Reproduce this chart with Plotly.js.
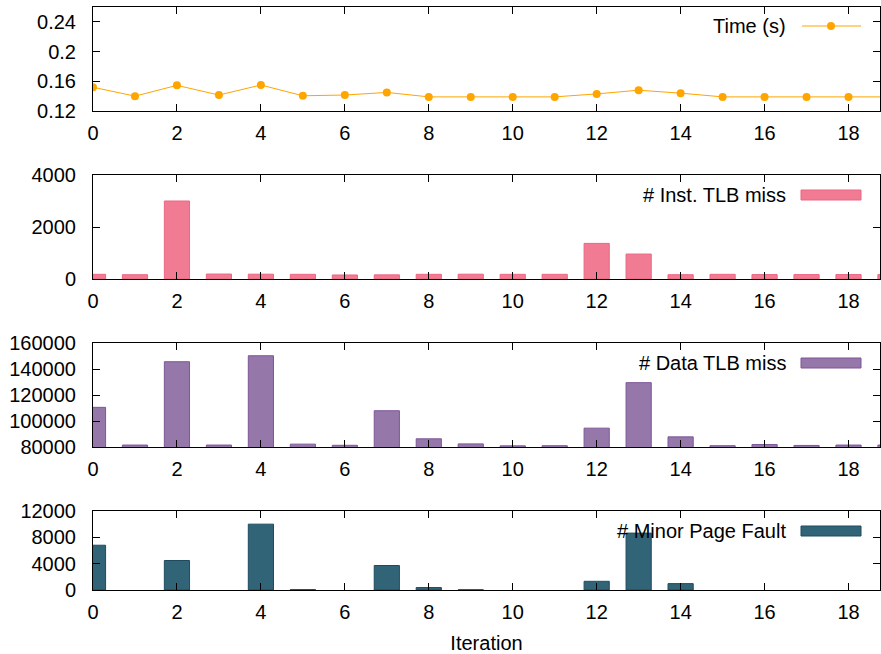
<!DOCTYPE html>
<html>
<head>
<meta charset="utf-8">
<script src="https://cdn.plot.ly/plotly-3.0.1.min.js"></script>
<style>
  html, body { margin: 0; padding: 0; background: #fff; }
  #chart { width: 881px; height: 654px; }
</style>
</head>
<body>
<div id="chart"></div>
<script>
// Per-iteration measurements
const iterations = [0, 1, 2, 3, 4, 5, 6, 7, 8, 9, 10, 11, 12, 13, 14, 15, 16, 17, 18, 19];
const timeSec = [0.152, 0.140, 0.1545, 0.1415, 0.155, 0.1405, 0.1415, 0.145, 0.139, 0.139,
                 0.139, 0.139, 0.143, 0.148, 0.144, 0.139, 0.139, 0.139, 0.139, 0.139];
const instTlbMiss = [180, 165, 3000, 190, 185, 180, 155, 160, 180, 185,
                     180, 180, 1370, 960, 165, 180, 170, 170, 170, 170];
const dataTlbMiss = [110500, 81500, 145600, 81500, 150200, 82200, 81300, 107900, 86300, 82400,
                     80900, 81000, 94500, 129500, 87800, 81000, 81900, 81200, 81500, 81500];
const minorPageFault = [6800, 0, 4480, 0, 10000, 60, 0, 3720, 370, 40,
                        0, 0, 1320, 8640, 970, 0, 0, 0, 0, 0];

const seriesNames = ['Time (s)', '# Inst. TLB miss', '# Data TLB miss', '# Minor Page Fault'];
const xTicks = [0, 2, 4, 6, 8, 10, 12, 14, 16, 18];
const yTicks = [
  [0.12, 0.16, 0.2, 0.24],
  [0, 2000, 4000],
  [80000, 100000, 120000, 140000, 160000],
  [0, 4000, 8000, 12000]
];
const yTickLabels = [
  ['0.12', '0.16', '0.2', '0.24'],
  ['0', '2000', '4000'],
  ['80000', '100000', '120000', '140000', '160000'],
  ['0', '4000', '8000', '12000']
];
const yRanges = [[0.12, 0.26], [0, 4000], [80000, 160000], [0, 12000]];

// Canvas geometry (pixels)
const W = 881, H = 654;
const M = { l: 93, r: 1, t: 7, b: 64 };
const PW = W - M.l - M.r, PH = H - M.t - M.b;
const px = x => (x - M.l) / PW;
const py = y => (H - M.b - y) / PH;

// Panel top/bottom edges in pixels
const panels = [[7, 111], [175, 279], [343, 447], [511, 590]];

const FONT = 'Liberation Sans, Arial, sans-serif';
const ORANGE = '#ffa500';
const fills = ['#f27b94', '#9677aa', '#326478'];
const edges = ['#ea6782', '#7d5797', '#1f4b60'];

const traces = [
  {
    type: 'scatter', mode: 'lines+markers', x: iterations, y: timeSec,
    name: seriesNames[0], xaxis: 'x', yaxis: 'y',
    line: { color: ORANGE, width: 1 },
    marker: { color: ORANGE, size: 8 },
    cliponaxis: true, showlegend: false
  }
];
[instTlbMiss, dataTlbMiss, minorPageFault].forEach((vals, i) => {
  traces.push({
    type: 'bar', x: iterations, y: vals, width: 0.6,
    name: seriesNames[i + 1], xaxis: 'x' + (i + 2), yaxis: 'y' + (i + 2),
    marker: {
      color: fills[i],
      // empty boxes get no outline so nothing sits on the axis line
      line: { color: edges[i], width: vals.map(v => (v > 0 ? 1 : 0)) }
    },
    showlegend: false
  });
});

const layout = {
  width: W, height: H,
  margin: M,
  paper_bgcolor: '#fff', plot_bgcolor: '#fff',
  font: { family: FONT, size: 20, color: '#000' },
  showlegend: false,
  bargap: 0,
  shapes: [],
  annotations: []
};

panels.forEach((p, i) => {
  const n = i === 0 ? '' : String(i + 1);
  layout['xaxis' + n] = {
    domain: [0, 1], anchor: 'y' + n, range: [0, 18.75],
    tickvals: xTicks, ticks: 'inside', ticklen: 7, tickcolor: '#000', tickwidth: 1,
    showline: true, linecolor: '#000', linewidth: 1, mirror: 'ticks',
    showgrid: false, zeroline: false, ticklabelstandoff: 4,
    tickfont: { family: FONT, size: 20, color: '#000' }
  };
  layout['yaxis' + n] = {
    domain: [py(p[1]), py(p[0])], anchor: 'x' + n, range: yRanges[i],
    tickvals: yTicks[i], ticktext: yTickLabels[i],
    ticks: 'inside', ticklen: 7, tickcolor: '#000', tickwidth: 1,
    showline: true, linecolor: '#000', linewidth: 1, mirror: 'ticks',
    showgrid: false, zeroline: false, ticklabelstandoff: 12,
    tickfont: { family: FONT, size: 20, color: '#000' }
  };
});
layout.xaxis4.title = { text: 'Iteration', standoff: 14, font: { family: FONT, size: 20, color: '#000' } };

// Key entries: label on the left, sample on the right
const keyY = [26, 195, 363, 531];
keyY.forEach((y, i) => {
  layout.annotations.push({
    xref: 'paper', yref: 'paper', x: px(788), y: py(y),
    xanchor: 'right', yanchor: 'middle', showarrow: false,
    text: seriesNames[i], font: { family: FONT, size: 20, color: '#000' }
  });
  if (i === 0) {
    layout.shapes.push({
      type: 'line', xref: 'paper', yref: 'paper',
      x0: px(802), x1: px(861), y0: py(y), y1: py(y),
      line: { color: ORANGE, width: 1 }
    });
    layout.shapes.push({
      type: 'circle', xref: 'paper', yref: 'paper',
      x0: px(827), x1: px(835), y0: py(y + 4), y1: py(y - 4),
      fillcolor: ORANGE, line: { color: ORANGE, width: 0 }
    });
  } else {
    layout.shapes.push({
      type: 'rect', xref: 'paper', yref: 'paper',
      x0: px(801), x1: px(861), y0: py(y + 5), y1: py(y - 5),
      fillcolor: fills[i - 1], line: { color: edges[i - 1], width: 1 }
    });
  }
});

Plotly.newPlot('chart', traces, layout, { displayModeBar: false, staticPlot: true });
</script>
</body>
</html>
